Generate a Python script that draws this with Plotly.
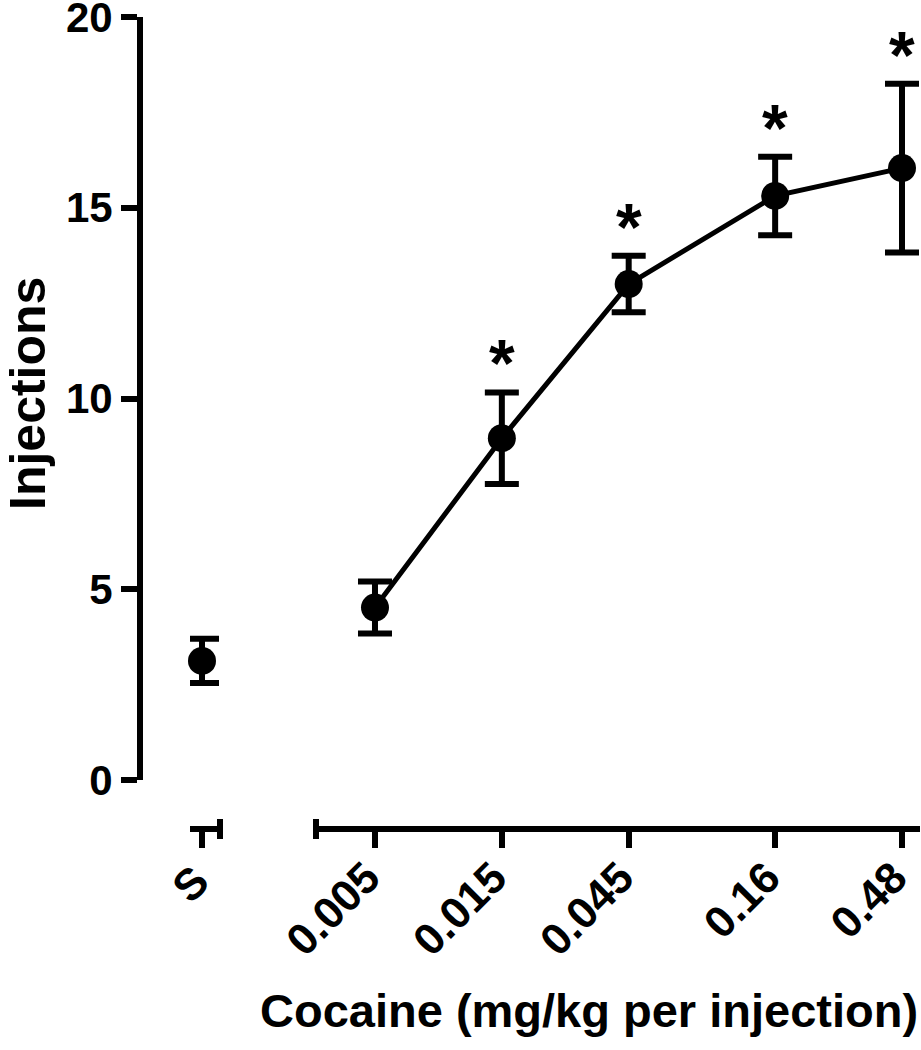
import plotly.graph_objects as go
import math

# ---- data ----
saline_label = ["S"]
saline_mean = [3.12]
saline_err = [0.58]

doses = [0.005, 0.015, 0.045, 0.16, 0.48]
dose_labels = ["0.005", "0.015", "0.045", "0.16", "0.48"]
dose_mean = [4.52, 8.96, 13.0, 15.31, 16.04]
dose_err = [0.68, 1.2, 0.74, 1.03, 2.21]
sig = ["", "*", "*", "*", "*"]

y_ticks = [0, 5, 10, 15, 20]

FONT = "Liberation Sans, Arial, Helvetica, sans-serif"
LW = 6
L, R, T, B = 140, 1, 17, 221
W, H = 921, 1050
PW = W - L - R
PH = H - T - B

fig = go.Figure()

fig.add_trace(go.Scatter(
    x=[0], y=saline_mean, mode="markers",
    marker=dict(size=28, color="black"),
    error_y=dict(type="data", array=saline_err, color="black", thickness=LW, width=17),
    xaxis="x", yaxis="y", showlegend=False, cliponaxis=False))

fig.add_trace(go.Scatter(
    x=doses, y=dose_mean, mode="lines+markers",
    line=dict(color="black", width=5),
    marker=dict(size=28, color="black"),
    error_y=dict(type="data", array=dose_err, color="black", thickness=LW, width=17),
    xaxis="x2", yaxis="y", showlegend=False, cliponaxis=False))

# asterisks
for d, m, e, s in zip(doses, dose_mean, dose_err, sig):
    if s:
        fig.add_annotation(x=math.log10(d), y=m + e, xref="x2", yref="y",
                           text=s, showarrow=False, yanchor="bottom", yshift=-10,
                           font=dict(family=FONT, size=66, color="black", weight="bold"))

ytickfont = dict(family=FONT, size=42, color="black", weight="bold")
xtickfont = dict(family=FONT, size=44, color="black", weight="bold")
common = dict(showline=True, linewidth=LW, linecolor="black", ticks="outside",
              ticklen=16, tickwidth=LW, tickcolor="black", showgrid=False,
              zeroline=False, anchor="free", position=0,
              automargin=False, ticklabeloverflow="allow")

px = lambda x: (x - L) / PW

fig.update_layout(
    width=W, height=H,
    margin=dict(l=L, r=R, t=T, b=B),
    plot_bgcolor="white", paper_bgcolor="white",
    xaxis=dict(domain=[px(190), px(220)], range=[-0.4, 0.6], tickmode="array",
               tickvals=[0], ticktext=saline_label, tickangle=-45, tickfont=xtickfont,
               ticklabelstandoff=-10, ticklabelshift=-6, **common),
    xaxis2=dict(domain=[px(316), 1.0], type="log",
                range=[math.log10(0.005) - 59 / 265.9, math.log10(0.48) + 18 / 265.9],
                tickmode="array", tickvals=doses, ticktext=dose_labels, tickangle=-45,
                tickfont=xtickfont, ticklabelstandoff=-14, ticklabelshift=-8, **common),
    yaxis=dict(domain=[(829 - 780) / PH, 1.0], range=[0, 20], tickmode="array",
               tickvals=y_ticks, tickfont=ytickfont, **common),
)

# axis end caps
for xp in [px(220), px(316)]:
    fig.add_shape(type="line", xref="paper", yref="paper", ysizemode="pixel",
                  yanchor=0, x0=xp, x1=xp, y0=-10, y1=10,
                  line=dict(color="black", width=LW))

# axis titles
fig.add_annotation(text="Injections", textangle=-90, xref="paper", yref="paper",
                   x=px(28), y=(829 - 394) / PH,
                   xanchor="center", yanchor="middle", showarrow=False,
                   font=dict(family=FONT, size=50, color="black", weight="bold"))
fig.add_annotation(text="Cocaine (mg/kg per injection)", xref="paper", yref="paper",
                   x=px(589), y=-(1010 - 829) / PH,
                   xanchor="center", yanchor="middle", showarrow=False,
                   font=dict(family=FONT, size=47, color="black", weight="bold"))

fig.write_html("out.html", config={"displayModeBar": False},
               post_script="document.body.style.margin='0';document.body.style.overflow='hidden';")
